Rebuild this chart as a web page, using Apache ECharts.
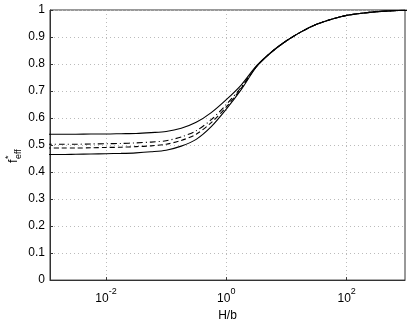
<!DOCTYPE html>
<html><head><meta charset="utf-8">
<script src="https://cdn.jsdelivr.net/npm/echarts@6/dist/echarts.min.js"></script>
<style>html,body{margin:0;padding:0;background:#fff}#c{width:409px;height:327px}</style>
</head><body><div id="c"></div>
<script>
// H/b sample points (quarter-decade spacing)
const hb = [0.001, 0.00178, 0.00316, 0.00562, 0.01, 0.0178, 0.0316, 0.0562, 0.1, 0.178, 0.316, 0.562, 1, 1.78, 3.16, 5.62, 10, 17.8, 31.6, 56.2, 100, 178, 316, 562, 1000];
const upperSolid   = [0.540, 0.540, 0.540, 0.541, 0.541, 0.542, 0.543, 0.546, 0.550, 0.562, 0.584, 0.620, 0.668, 0.723, 0.793, 0.845, 0.886, 0.920, 0.947, 0.966, 0.980, 0.988, 0.994, 0.997, 0.999];
const upperDashDot = [0.503, 0.503, 0.503, 0.504, 0.505, 0.506, 0.508, 0.511, 0.516, 0.530, 0.553, 0.594, 0.650, 0.715, 0.791, 0.844, 0.886, 0.920, 0.947, 0.966, 0.980, 0.988, 0.994, 0.997, 0.999];
const lowerDashed  = [0.489, 0.489, 0.489, 0.490, 0.491, 0.492, 0.494, 0.497, 0.503, 0.517, 0.540, 0.583, 0.641, 0.711, 0.790, 0.844, 0.886, 0.920, 0.947, 0.966, 0.980, 0.988, 0.994, 0.997, 0.999];
const lowerSolid   = [0.465, 0.465, 0.466, 0.467, 0.468, 0.469, 0.471, 0.475, 0.481, 0.496, 0.521, 0.568, 0.633, 0.706, 0.789, 0.843, 0.886, 0.920, 0.947, 0.966, 0.980, 0.988, 0.994, 0.997, 0.999];
const xTicks = [0.01, 1, 100];
const xName = 'H/b';

const FONT = 'Liberation Sans, Arial, Helvetica, sans-serif';
function pairs(ys){ return hb.map((x,i)=>[x, ys[i]]); }
function mk(ys, type){
  return { type:'line', data: pairs(ys), smooth: 0.3, symbol:'none', clip:true,
    lineStyle:{ color:'#000', width:1.1, type: type } };
}
const chart = echarts.init(document.getElementById('c'), null, {renderer:'canvas'});
chart.setOption({
  animation:false,
  grid:{ left:50, right:4, top:10, bottom:37, show:true, borderColor:'#333', borderWidth:1, backgroundColor:'transparent' },
  xAxis:{ type:'log', min: Math.pow(10,-2.93), max: Math.pow(10,2.97),
    name: xName, nameLocation:'middle', nameGap:22,
    nameTextStyle:{ fontFamily:FONT, fontSize:12, color:'#000' },
    axisLine:{ lineStyle:{ color:'#333' } },
    axisTick:{ show:true, inside:true, length:3, customValues: xTicks, lineStyle:{ color:'#333' } },
    minorTick:{ show:false },
    splitLine:{ show:true, lineStyle:{ color:'#bbb', type:[1,3] } },
    axisLabel:{ customValues: xTicks, margin:7, color:'#000',
      formatter: v => { const e = Math.round(Math.log10(v)); return '{b|10}{s|' + e + '}'; },
      rich:{ b:{ fontFamily:FONT, fontSize:12, color:'#000', lineHeight:18, verticalAlign:'bottom' },
             s:{ fontFamily:FONT, fontSize:9, color:'#000', lineHeight:18, verticalAlign:'top' } } }
  },
  yAxis:{ type:'value', min:0, max:1, interval:0.1,
    axisLine:{ show:true, lineStyle:{ color:'#333' } },
    axisTick:{ show:true, inside:true, length:3, lineStyle:{ color:'#333' } },
    splitLine:{ show:true, lineStyle:{ color:'#bbb', type:[1,3] } },
    axisLabel:{ fontFamily:FONT, fontSize:12, color:'#000', margin:5,
      formatter: v => String(Math.round(v*10)/10) }
  },
  graphic:[{
    type:'group', x:20, y:163, rotation:Math.PI/2,
    children:[
      { type:'text', x:0, y:0, style:{ text:'f', fontFamily:FONT, fontSize:13, fill:'#000', align:'left', verticalAlign:'bottom' } },
      { type:'text', x:4, y:3, style:{ text:'eff', fontFamily:FONT, fontSize:9, fill:'#000', align:'left', verticalAlign:'bottom' } },
      { type:'text', x:4, y:-7, style:{ text:'*', fontFamily:FONT, fontSize:9, fill:'#000', align:'left', verticalAlign:'bottom' } }
    ]
  }],
  series:[ mk(upperSolid,'solid'), mk(upperDashDot,[6,3,1,3]), mk(lowerDashed,[5,3]), mk(lowerSolid,'solid') ]
});
</script></body></html>
